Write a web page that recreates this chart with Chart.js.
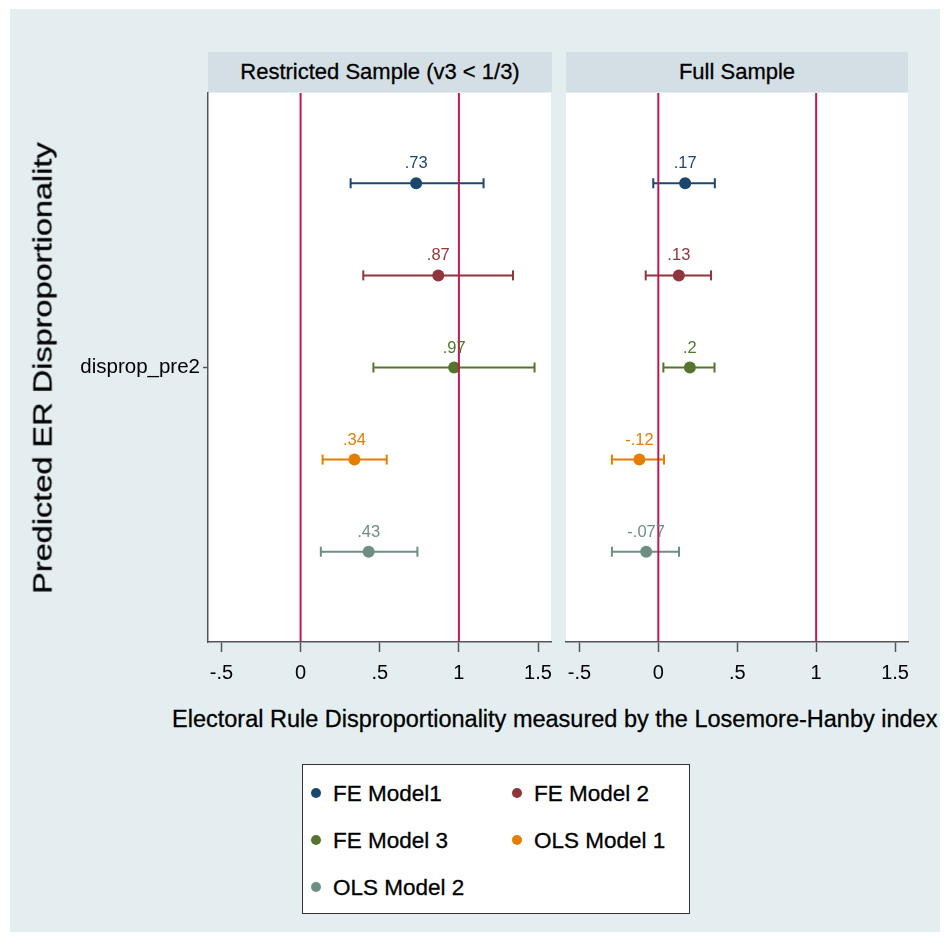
<!DOCTYPE html>
<html>
<head>
<meta charset="utf-8">
<title>Electoral Rule Disproportionality</title>
<script src="https://cdn.jsdelivr.net/npm/chart.js@4.4.1/dist/chart.umd.min.js"></script>
<style>
  body { margin: 0; background: #fff; font-family: "Liberation Sans", Arial, Helvetica, sans-serif; }
  #page { position: relative; width: 944px; height: 936px; overflow: hidden; }
  #frame { position: absolute; left: 10px; top: 9px; width: 930px; height: 923px; background: #e4eef0; }
  canvas { position: absolute; top: 0; }
  .strip { position: absolute; top: 52px; height: 40px; line-height: 40px; background: #d3dfe5;
           text-align: center; font-size: 22px; color: #000; -webkit-text-stroke: 0.3px #000; }
  .txt { position: absolute; white-space: nowrap; color: #000; -webkit-text-stroke: 0.3px #000; }
  #legend { position: absolute; left: 302px; top: 764px; width: 386px; height: 148px; background: #fff;
            border: 1.5px solid #333; }
  .item { position: absolute; font-size: 22.5px; line-height: 26px; white-space: nowrap; color: #000;
          -webkit-text-stroke: 0.3px #000; }
  .dot { display: inline-block; width: 10px; height: 10px; border-radius: 50%; margin-right: 12px; vertical-align: 3px; }
</style>
</head>
<body>
<div id="page">
  <div id="frame"></div>
  <div class="strip" id="strip0" style="left:208px; width:344px;"></div>
  <div class="strip" id="strip1" style="left:566px; width:342px;"></div>
  <canvas id="left" width="562" height="700" style="left:0px;"></canvas>
  <canvas id="right" width="388" height="700" style="left:556px;"></canvas>
  <div class="txt" id="ytitle" style="left:43px; top:368px; font-size:25px; transform: translate(-50%,-50%) rotate(-90deg) scaleX(1.3);"></div>
  <div class="txt" id="xtitle" style="left:172px; top:706px; font-size:23.5px;"></div>
  <div id="legend"></div>
</div>
<script>
// coefficient estimates with their confidence bounds, one entry per model
const models = ['FE Model1', 'FE Model 2', 'FE Model 3', 'OLS Model 1', 'OLS Model 2'];
const panelTitles = ['Restricted Sample (v3 < 1/3)', 'Full Sample'];
const rowLabel = 'disprop_pre2';

const restrictedEst = [0.73, 0.87, 0.97, 0.34, 0.43];
const restrictedLo  = [0.316, 0.396, 0.46, 0.139, 0.128];
const restrictedHi  = [1.156, 1.342, 1.478, 0.544, 0.738];

const fullEst = [0.17, 0.13, 0.2, -0.12, -0.077];
const fullLo  = [-0.032, -0.08, 0.032, -0.294, -0.294];
const fullHi  = [0.358, 0.334, 0.356, 0.036, 0.131];

const xTickValues = [-0.5, 0, 0.5, 1, 1.5];
const xTickLabels = ['-.5', '0', '.5', '1', '1.5'];
const refLines = [0, 1];

const xTitle = 'Electoral Rule Disproportionality measured by the Losemore-Hanby index';
const yTitle = 'Predicted ER Disproportionality';

// stata s2color palette
const modelColors = ['#1a476f', '#90353b', '#55752f', '#e37e00', '#6e8e84'];
const refColor = '#bc1a50';
const axisColor = '#555';
const fontFamily = '"Liberation Sans", Arial, Helvetica, sans-serif';

const xMin = -0.585, xMax = 1.582;
const yLim = 2.98;

// drop the leading zero like stata does: 0.73 -> .73
function stataFmt(v) {
    return String(v).replace(/^(-?)0\./, '$1.');
}

// white plot region
const plotBg = {
    id: 'plotBg',
    beforeDraw(chart) {
        const a = chart.chartArea;
        chart.ctx.save();
        chart.ctx.fillStyle = '#fff';
        chart.ctx.fillRect(a.left, a.top, a.right - a.left, a.bottom - a.top);
        chart.ctx.restore();
    }
};

// value labels above each estimate marker
const valueLabels = {
    id: 'valueLabels',
    afterDatasetsDraw(chart) {
        const ctx = chart.ctx;
        ctx.save();
        ctx.font = '16.5px ' + fontFamily;
        ctx.textAlign = 'center';
        ctx.textBaseline = 'alphabetic';
        chart.data.datasets.forEach((ds, i) => {
            if (!ds.valueLabel) return;
            const pt = chart.getDatasetMeta(i).data[0];
            ctx.fillStyle = ds.backgroundColor;
            ctx.fillText(ds.valueLabel, pt.x, pt.y - 15);
        });
        ctx.restore();
    }
};

function buildDatasets(est, lo, hi) {
    const sets = [];
    refLines.forEach(v => {
        sets.push({
            data: [{x: v, y: -yLim}, {x: v, y: yLim}],
            showLine: true, borderColor: refColor, borderWidth: 2,
            pointRadius: 0, order: 0
        });
    });
    models.forEach((m, i) => {
        const row = 2 - i;
        sets.push({
            data: [{x: est[i], y: row}],
            backgroundColor: modelColors[i], borderColor: modelColors[i],
            pointRadius: 6, borderWidth: 0, order: 1,
            valueLabel: stataFmt(est[i])
        });
        sets.push({
            data: [{x: lo[i], y: row}, {x: hi[i], y: row}],
            showLine: true, borderColor: modelColors[i], borderWidth: 2,
            pointStyle: 'line', pointRotation: 90, pointRadius: 5,
            pointBorderColor: modelColors[i], pointBorderWidth: 2, order: 2
        });
    });
    return sets;
}

function makeChart(id, est, lo, hi, showY, pad) {
    return new Chart(document.getElementById(id), {
        type: 'scatter',
        data: { datasets: buildDatasets(est, lo, hi) },
        options: {
            responsive: false,
            animation: false,
            devicePixelRatio: 1,
            layout: { padding: pad },
            plugins: { legend: { display: false }, tooltip: { enabled: false } },
            events: [],
            scales: {
                x: {
                    type: 'linear', min: xMin, max: xMax,
                    afterBuildTicks: s => { s.ticks = xTickValues.map(v => ({value: v})); },
                    ticks: {
                        callback: (v, i) => xTickLabels[i],
                        font: { size: 20, family: fontFamily }, color: '#000', padding: 9,
                        maxRotation: 0, autoSkip: false
                    },
                    grid: { drawOnChartArea: false, drawTicks: true, tickLength: 10, tickWidth: 1.5, tickColor: axisColor },
                    border: { display: true, color: axisColor, width: 1.5 },
                    afterFit: s => { s.height = 58; }
                },
                y: {
                    type: 'linear', min: -yLim, max: yLim, display: showY,
                    afterBuildTicks: s => { s.ticks = [{value: 0}]; },
                    ticks: {
                        callback: () => rowLabel,
                        font: { size: 20.5, family: fontFamily }, color: '#000', padding: 3
                    },
                    grid: { drawOnChartArea: false, drawTicks: true, tickLength: 5, tickWidth: 1.5, tickColor: axisColor },
                    border: { display: true, color: axisColor, width: 1.5 },
                    afterFit: s => { s.width = showY ? 208 : 0; }
                }
            }
        },
        plugins: [plotBg, valueLabels]
    });
}

makeChart('left', restrictedEst, restrictedLo, restrictedHi, true, {top: 93, right: 11, left: 0, bottom: 0});
makeChart('right', fullEst, fullLo, fullHi, false, {top: 93, right: 36, left: 10, bottom: 0});

document.getElementById('strip0').textContent = panelTitles[0];
document.getElementById('strip1').textContent = panelTitles[1];
document.getElementById('xtitle').textContent = xTitle;
document.getElementById('ytitle').textContent = yTitle;

// legend: two columns, filled markers
const legend = document.getElementById('legend');
models.forEach((m, i) => {
    const el = document.createElement('div');
    el.className = 'item';
    el.style.left = (i % 2 === 0 ? 8 : 209) + 'px';
    el.style.top = (16 + Math.floor(i / 2) * 47) + 'px';
    el.innerHTML = '<span class="dot" style="background:' + modelColors[i] + '"></span>' + m;
    legend.appendChild(el);
});
</script>
</body>
</html>
